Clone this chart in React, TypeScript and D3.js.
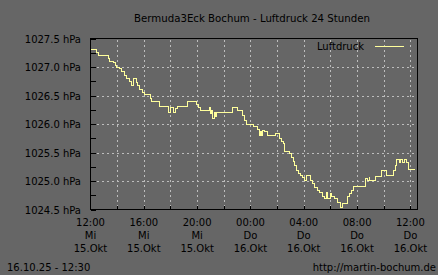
import React from "react";
import * as d3 from "d3";

const W = 438;
const H = 275;

const title = "Bermuda3Eck Bochum - Luftdruck 24 Stunden";
const seriesName = "Luftdruck";
const footerLeft = "16.10.25 - 12:30";
const footerRight = "http://martin-bochum.de";

const times: string[] = [
  "2025-10-15 12:00", "2025-10-15 12:27", "2025-10-15 12:36", "2025-10-15 13:21", "2025-10-15 13:26",
  "2025-10-15 13:44", "2025-10-15 13:53", "2025-10-15 13:57", "2025-10-15 14:11", "2025-10-15 14:20",
  "2025-10-15 14:33", "2025-10-15 14:42", "2025-10-15 14:56", "2025-10-15 15:05", "2025-10-15 15:14",
  "2025-10-15 15:27", "2025-10-15 15:32", "2025-10-15 15:41", "2025-10-15 15:55", "2025-10-15 16:04",
  "2025-10-15 16:31", "2025-10-15 16:36", "2025-10-15 17:11", "2025-10-15 17:52", "2025-10-15 17:58",
  "2025-10-15 18:13", "2025-10-15 18:22", "2025-10-15 18:31", "2025-10-15 19:17", "2025-10-15 19:57",
  "2025-10-15 20:07", "2025-10-15 20:17", "2025-10-15 20:55", "2025-10-15 21:00", "2025-10-15 21:06",
  "2025-10-15 21:10", "2025-10-15 21:17", "2025-10-15 21:21", "2025-10-15 21:28", "2025-10-15 22:40",
  "2025-10-15 23:03", "2025-10-15 23:22", "2025-10-15 23:33", "2025-10-15 23:40",
  "2025-10-16 00:15", "2025-10-16 00:33", "2025-10-16 00:39", "2025-10-16 00:45", "2025-10-16 00:50",
  "2025-10-16 00:54", "2025-10-16 01:05", "2025-10-16 01:15", "2025-10-16 01:54", "2025-10-16 02:12",
  "2025-10-16 02:20", "2025-10-16 02:27", "2025-10-16 02:35", "2025-10-16 02:57", "2025-10-16 03:05",
  "2025-10-16 03:12", "2025-10-16 03:17", "2025-10-16 03:25", "2025-10-16 03:35", "2025-10-16 03:46",
  "2025-10-16 03:55", "2025-10-16 04:01", "2025-10-16 04:14", "2025-10-16 04:28", "2025-10-16 04:41",
  "2025-10-16 04:50", "2025-10-16 05:04", "2025-10-16 05:13", "2025-10-16 05:26", "2025-10-16 05:35",
  "2025-10-16 05:44", "2025-10-16 05:49", "2025-10-16 06:02", "2025-10-16 06:07", "2025-10-16 06:20",
  "2025-10-16 06:34", "2025-10-16 06:47", "2025-10-16 06:54", "2025-10-16 07:15", "2025-10-16 07:19",
  "2025-10-16 07:28", "2025-10-16 07:37", "2025-10-16 07:42", "2025-10-16 08:36", "2025-10-16 08:45",
  "2025-10-16 08:54", "2025-10-16 08:58", "2025-10-16 09:25", "2025-10-16 09:52", "2025-10-16 10:14",
  "2025-10-16 10:43", "2025-10-16 10:51", "2025-10-16 10:59", "2025-10-16 11:10", "2025-10-16 11:17",
  "2025-10-16 11:26", "2025-10-16 11:32", "2025-10-16 11:44", "2025-10-16 11:51", "2025-10-16 12:21",
];

const pressure: number[] = [
  1027.31, 1027.26, 1027.2, 1027.15, 1027.1,
  1027.08, 1027.03, 1027.0, 1026.97, 1026.92,
  1026.85, 1026.79, 1026.75, 1026.68, 1026.8,
  1026.73, 1026.67, 1026.61, 1026.56, 1026.51,
  1026.45, 1026.4, 1026.31, 1026.21, 1026.29,
  1026.21, 1026.27, 1026.31, 1026.4, 1026.35,
  1026.29, 1026.24, 1026.29, 1026.18, 1026.24,
  1026.1, 1026.2, 1026.13, 1026.21, 1026.29,
  1026.24, 1026.15, 1026.06, 1026.0,
  1025.96, 1025.9, 1025.8, 1025.87, 1025.8,
  1025.89, 1025.86, 1025.8, 1025.83, 1025.74,
  1025.7, 1025.65, 1025.51, 1025.48, 1025.41,
  1025.35, 1025.27, 1025.18, 1025.14, 1025.1,
  1025.06, 1025.01, 1025.1, 1025.01, 1024.95,
  1024.89, 1024.83, 1024.79, 1024.73, 1024.69,
  1024.79, 1024.69, 1024.78, 1024.72, 1024.69,
  1024.63, 1024.54, 1024.6, 1024.66, 1024.72,
  1024.78, 1024.83, 1024.9, 1025.04, 1025.01,
  1025.06, 1025.01, 1025.08, 1025.18, 1025.1,
  1025.18, 1025.27, 1025.38, 1025.32, 1025.38,
  1025.32, 1025.38, 1025.32, 1025.2, 1025.2,
];

const xDomain: string[] = ["2025-10-15 12:00", "2025-10-16 12:30"];
const yDomain: number[] = [1024.5, 1027.5];

const yTickValues: number[] = [1024.5, 1025.0, 1025.5, 1026.0, 1026.5, 1027.0, 1027.5];
const yMinorStep = 0.25;
const yUnit = "hPa";

const xTickTimes: string[] = [
  "2025-10-15 12:00", "2025-10-15 16:00", "2025-10-15 20:00", "2025-10-16 00:00",
  "2025-10-16 04:00", "2025-10-16 08:00", "2025-10-16 12:00",
];
const xTickHours: string[] = ["12:00", "16:00", "20:00", "00:00", "04:00", "08:00", "12:00"];
const xTickDays: string[] = ["Mi", "Mi", "Mi", "Do", "Do", "Do", "Do"];
const xTickDates: string[] = ["15.Okt", "15.Okt", "15.Okt", "16.Okt", "16.Okt", "16.Okt", "16.Okt"];
const xGridHours = 2;

const parse = d3.timeParse("%Y-%m-%d %H:%M");

export default function App() {
  const left = 90.5;
  const right = 417.5;
  const top = 38.5;
  const bottom = 209.5;

  const x = d3
    .scaleTime()
    .domain([parse(xDomain[0])!, parse(xDomain[1])!])
    .range([left, left + 24.5 * 13.33]);
  const y = d3.scaleLinear().domain(yDomain).range([bottom, top]);

  const data = times.map((t, i) => ({ t: parse(t)!, v: pressure[i] }));
  const line = d3
    .line<{ t: Date; v: number }>()
    .x((d) => x(d.t))
    .y((d) => y(d.v))
    .curve(d3.curveStepAfter);

  const gridTimes = d3.timeHour
    .every(xGridHours)!
    .range(d3.timeMinute.offset(parse(xDomain[0])!, 1), parse(xDomain[1])!);
  const minorY = d3.range(yDomain[0], yDomain[1] + 0.001, yMinorStep);

  const font = "DejaVu Sans, sans-serif";
  const txt = "#000";
  const lineColor = "#ffff9c";
  const gridColor = "#bdbdbd";
  const rx = (v: number) => Math.round(v) + 0.5;

  return (
    <svg
      width={W}
      height={H}
      style={{ position: "absolute", left: 0, top: 0, display: "block" }}
      fontFamily={font}
    >
      <rect x={0} y={0} width={W} height={H} fill="#666666" />
      <text x={252} y={22} textAnchor="middle" fontSize={10.2} fill={txt}>
        {title}
      </text>

      {/* grid */}
      <g stroke={gridColor} strokeWidth={1} strokeDasharray="2,3" shapeRendering="crispEdges">
        {yTickValues
          .filter((v) => v > yDomain[0] && v < yDomain[1])
          .map((v) => (
            <line key={"gy" + v} x1={left + 1} x2={right - 1} y1={rx(y(v))} y2={rx(y(v))} />
          ))}
        {gridTimes.map((t) => (
          <line key={"gx" + t.getTime()} x1={rx(x(t))} x2={rx(x(t))} y1={top + 1} y2={bottom - 1} />
        ))}
      </g>

      {/* ticks */}
      <g stroke="#000" strokeWidth={1} shapeRendering="crispEdges">
        {minorY.map((v) => (
          <line key={"ty" + v} x1={left} x2={left + 5} y1={rx(y(v))} y2={rx(y(v))} />
        ))}
        {gridTimes.map((t) => (
          <line key={"tx" + t.getTime()} x1={rx(x(t))} x2={rx(x(t))} y1={bottom} y2={bottom - 4} />
        ))}
      </g>

      {/* data line */}
      <path d={line(data) || ""} fill="none" stroke={lineColor} strokeWidth={1} shapeRendering="crispEdges" />

      {/* frame */}
      <rect
        x={left}
        y={top}
        width={right - left}
        height={bottom - top}
        fill="none"
        stroke="#000"
        strokeWidth={1}
        shapeRendering="crispEdges"
      />

      {/* y labels */}
      {yTickValues.map((v) => (
        <text key={"ly" + v} x={81} y={y(v) + 4} textAnchor="end" fontSize={10} fill={txt}>
          {v.toFixed(1) + " " + yUnit}
        </text>
      ))}

      {/* x labels */}
      {xTickTimes.map((t, i) => {
        const xp = x(parse(t)!);
        return (
          <g key={"lx" + i} fontSize={10} fill={txt} textAnchor="middle">
            <text x={xp} y={225.5}>{xTickHours[i]}</text>
            <text x={xp} y={238.5}>{xTickDays[i]}</text>
            <text x={xp} y={252}>{xTickDates[i]}</text>
          </g>
        );
      })}

      {/* legend */}
      <text x={364} y={50} textAnchor="end" fontSize={10} fill={txt}>
        {seriesName}
      </text>
      <line x1={375} x2={404} y1={46.5} y2={46.5} stroke={lineColor} strokeWidth={1} shapeRendering="crispEdges" />

      {/* footer */}
      <text x={7} y={271} fontSize={10} fill={txt}>
        {footerLeft}
      </text>
      <text x={436} y={271} textAnchor="end" fontSize={10} fill={txt}>
        {footerRight}
      </text>
    </svg>
  );
}
